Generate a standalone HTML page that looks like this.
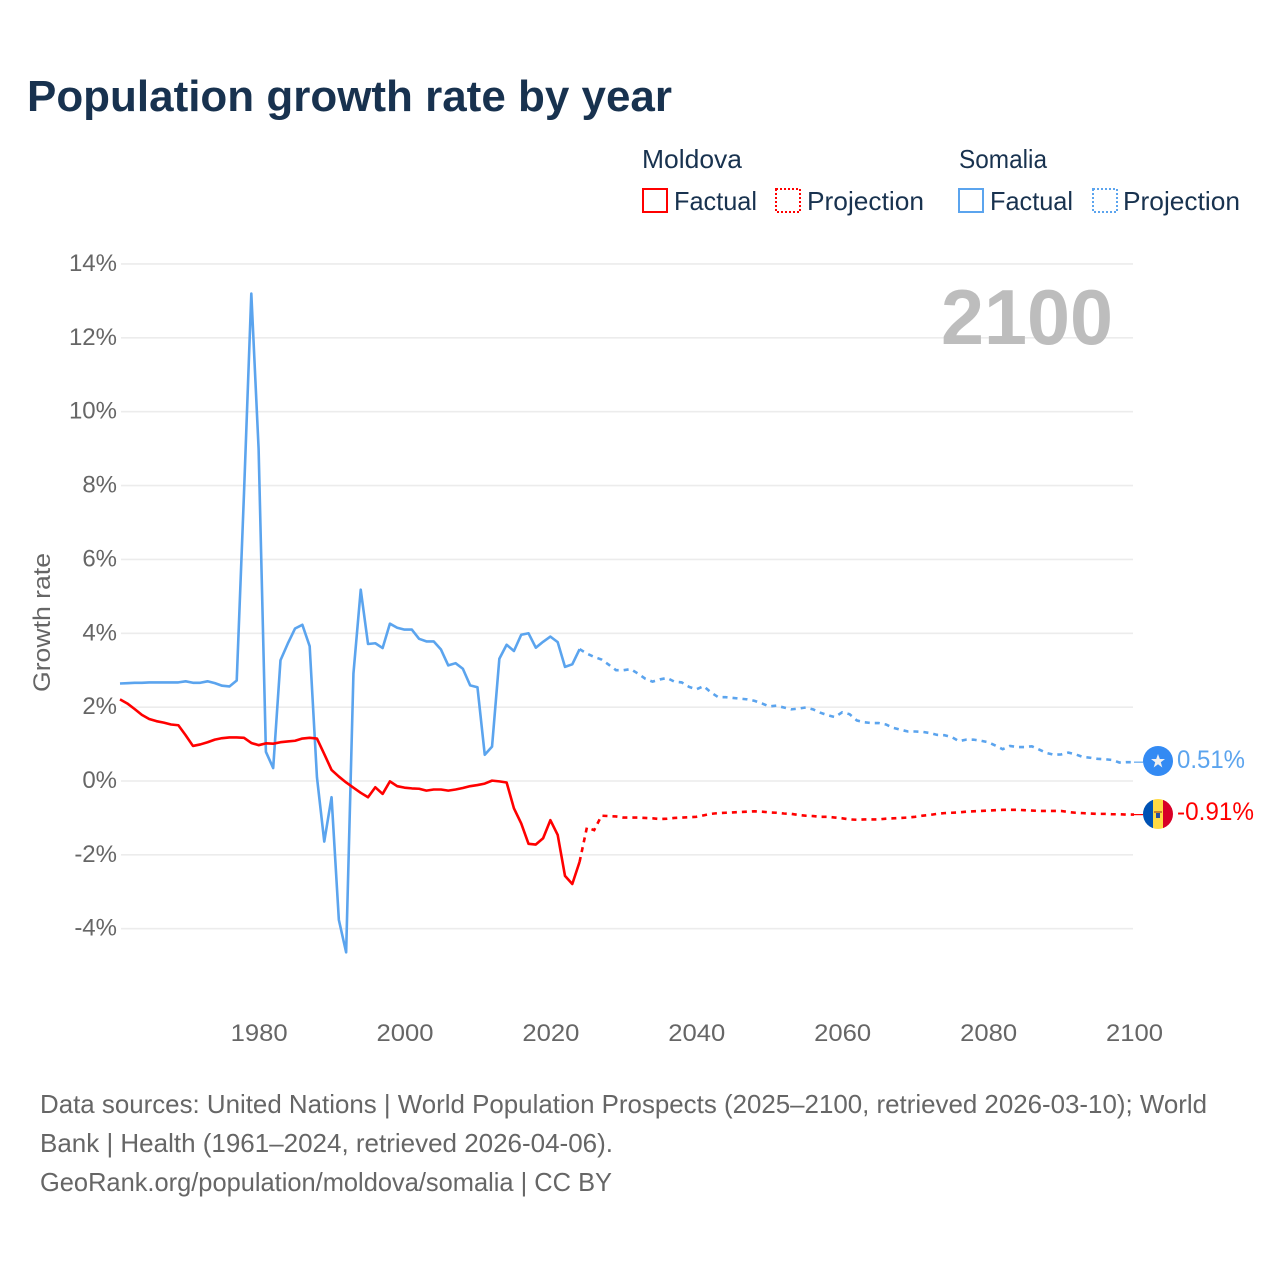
<!DOCTYPE html>
<html lang="en">
<head>
<meta charset="utf-8">
<title>Population growth rate by year</title>
<style>
html,body{margin:0;padding:0;background:#fff;}
svg{display:block;font-family:"Liberation Sans",sans-serif;}
</style>
</head>
<body>
<svg id="chart" xmlns="http://www.w3.org/2000/svg" width="1280" height="1280" viewBox="0 0 1280 1280">
  <defs>
    <clipPath id="flag-clip"><circle cx="1158" cy="814" r="15"></circle></clipPath>
  </defs>
  <rect x="0" y="0" width="1280" height="1280" fill="#ffffff"></rect>
  <text x="27" y="111" font-size="44" font-weight="700" fill="#18324f" textLength="645" lengthAdjust="spacingAndGlyphs">Population growth rate by year</text>

  <g font-size="26" fill="#18324f">
    <text x="642" y="168" textLength="100" lengthAdjust="spacingAndGlyphs">Moldova</text>
    <rect x="643" y="189" width="24" height="23" fill="none" stroke="#ff0000" stroke-width="2"></rect>
    <text x="674" y="210" textLength="83" lengthAdjust="spacingAndGlyphs">Factual</text>
    <rect x="776" y="189" width="24" height="23" fill="none" stroke="#ff0000" stroke-width="2" stroke-dasharray="2 2"></rect>
    <text x="807" y="210" textLength="117" lengthAdjust="spacingAndGlyphs">Projection</text>
    <text x="959" y="168" textLength="88" lengthAdjust="spacingAndGlyphs">Somalia</text>
    <rect x="959" y="189" width="24" height="23" fill="none" stroke="#5ba4ee" stroke-width="2"></rect>
    <text x="990" y="210" textLength="83" lengthAdjust="spacingAndGlyphs">Factual</text>
    <rect x="1093" y="189" width="24" height="23" fill="none" stroke="#5ba4ee" stroke-width="2" stroke-dasharray="2 2"></rect>
    <text x="1123" y="210" textLength="117" lengthAdjust="spacingAndGlyphs">Projection</text>
  </g>

  <g id="grid"></g>
  <g id="y-axis"></g>
  <g id="x-axis"></g>
  <text transform="translate(50,622.5) rotate(-90)" text-anchor="middle" font-size="24" fill="#666666" textLength="139" lengthAdjust="spacingAndGlyphs">Growth rate</text>
  <text id="year-label" x="1113" y="344" text-anchor="end" font-size="78" font-weight="700" fill="#bdbdbd" textLength="172" lengthAdjust="spacingAndGlyphs">2100</text>
  <g id="series"></g>

  <g>
    <circle cx="1158" cy="761" r="15" fill="#338af3"></circle>
    <polygon fill="#f0f0f0" points="1158,754 1159.8,759 1165,759 1160.8,762.3 1162.3,767.5 1158,764.3 1153.7,767.5 1155.2,762.3 1151,759 1156.2,759"></polygon>
  </g>
  <g clip-path="url(#flag-clip)">
    <rect x="1143" y="799" width="10" height="30" fill="#0052b4"></rect>
    <rect x="1153" y="799" width="10" height="30" fill="#ffda44"></rect>
    <rect x="1163" y="799" width="10" height="30" fill="#d80027"></rect>
    <rect x="1154" y="811" width="8" height="2" fill="#c9822c"></rect>
    <rect x="1156" y="813" width="4" height="5" fill="#2a4f9e"></rect>
  </g>
  <g id="end-labels"></g>

  <g font-size="26" fill="#666666">
    <text x="40" y="1113" textLength="1167" lengthAdjust="spacingAndGlyphs">Data sources: United Nations | World Population Prospects (2025–2100, retrieved 2026-03-10); World</text>
    <text x="40" y="1152" textLength="573" lengthAdjust="spacingAndGlyphs">Bank | Health (1961–2024, retrieved 2026-04-06).</text>
    <text x="40" y="1191" textLength="572" lengthAdjust="spacingAndGlyphs">GeoRank.org/population/moldova/somalia | CC BY</text>
  </g>
</svg>
<script>
const yTicks = [14, 12, 10, 8, 6, 4, 2, 0, -2, -4];
const xTicks = [1980, 2000, 2020, 2040, 2060, 2080, 2100];
const factualStartYear = 1961;
const projectionStartYear = 2024;
const moldovaFactual = [
  2.21,2.10,1.95,1.79,1.68,1.62,1.58,1.53,1.51,1.24,
  0.95,0.99,1.05,1.12,1.16,1.18,1.18,1.17,1.03,0.97,
  1.02,1.01,1.05,1.07,1.09,1.15,1.17,1.15,0.73,0.30,
  0.12,-0.04,-0.18,-0.32,-0.44,-0.17,-0.35,-0.01,-0.14,-0.18,
  -0.20,-0.21,-0.26,-0.23,-0.23,-0.26,-0.23,-0.19,-0.14,-0.11,
  -0.07,0.01,-0.01,-0.04,-0.74,-1.15,-1.70,-1.72,-1.55,-1.06,
  -1.46,-2.57,-2.79,-2.19
];
const somaliaFactual = [
  2.64,2.65,2.66,2.66,2.67,2.67,2.67,2.67,2.67,2.70,
  2.66,2.66,2.70,2.65,2.58,2.56,2.72,7.80,13.20,9.00,
  0.79,0.35,3.27,3.72,4.13,4.23,3.65,0.10,-1.64,-0.44,
  -3.76,-4.64,2.91,5.18,3.71,3.73,3.60,4.26,4.15,4.10,
  4.10,3.85,3.78,3.78,3.56,3.13,3.19,3.04,2.59,2.54,
  0.71,0.93,3.31,3.69,3.52,3.96,4.00,3.61,3.77,3.91,
  3.76,3.09,3.16,3.57
];
const moldovaProjection = [
  -2.19,-1.26,-1.33,-0.94,-0.95,-0.96,-0.99,-0.99,-0.99,-1.00,
  -1.01,-1.03,-1.02,-1.00,-0.99,-0.98,-0.97,-0.93,-0.89,-0.87,
  -0.86,-0.85,-0.84,-0.83,-0.82,-0.83,-0.85,-0.86,-0.88,-0.89,
  -0.92,-0.94,-0.95,-0.97,-0.97,-0.99,-1.01,-1.04,-1.05,-1.04,
  -1.04,-1.04,-1.02,-1.01,-1.00,-0.99,-0.97,-0.94,-0.92,-0.89,
  -0.87,-0.86,-0.85,-0.83,-0.82,-0.81,-0.80,-0.79,-0.78,-0.78,
  -0.78,-0.79,-0.80,-0.81,-0.81,-0.81,-0.81,-0.84,-0.86,-0.87,
  -0.88,-0.89,-0.89,-0.90,-0.90,-0.91,-0.91
];
const somaliaProjection = [
  3.57,3.45,3.36,3.29,3.15,3.00,3.00,3.03,2.91,2.77,
  2.69,2.75,2.79,2.69,2.67,2.55,2.48,2.57,2.40,2.27,
  2.27,2.25,2.23,2.21,2.17,2.10,2.02,2.04,1.99,1.94,
  1.96,1.99,1.94,1.85,1.78,1.73,1.86,1.81,1.64,1.59,
  1.57,1.57,1.53,1.44,1.39,1.34,1.34,1.33,1.30,1.25,
  1.24,1.19,1.08,1.12,1.12,1.09,1.05,0.96,0.86,0.95,
  0.92,0.92,0.94,0.85,0.76,0.71,0.72,0.77,0.72,0.65,
  0.63,0.60,0.59,0.57,0.50,0.51,0.51
];
const moldovaColor = '#ff0000';
const somaliaColor = '#5ba4ee';

const NS = 'http://www.w3.org/2000/svg';
function xScale(year) { return 120 + (year - 1961) * (1134 - 120) / (2100 - 1961); }
function yScale(value) { return 781 - value * 36.93; }
function svgEl(tag, attrs) {
  const el = document.createElementNS(NS, tag);
  Object.keys(attrs).forEach(function (k) { el.setAttribute(k, attrs[k]); });
  return el;
}
function pathFrom(values, startYear) {
  return values.map(function (v, i) {
    return (i ? 'L' : 'M') + xScale(startYear + i).toFixed(2) + ' ' + yScale(v).toFixed(2);
  }).join(' ');
}
function pct(v) { return v.toFixed(2) + '%'; }

const gridG = document.getElementById('grid');
const yAxisG = document.getElementById('y-axis');
const xAxisG = document.getElementById('x-axis');
const seriesG = document.getElementById('series');
const endG = document.getElementById('end-labels');

yTicks.forEach(function (t) {
  const line = svgEl('line', { x1: 121, x2: 1133, y1: yScale(t), y2: yScale(t), stroke: '#ececec', 'stroke-width': 1.6 });
  
  
  gridG.appendChild(line);
  const label = svgEl('text', { x: 117, y: yScale(t) + 7, 'text-anchor': 'end', 'font-size': 24, fill: '#666666' });
  
  
  label.textContent = t + '%';
  yAxisG.appendChild(label);
});

xTicks.forEach(function (t) {
  const label = svgEl('text', { x: xScale(t) + 0.5, y: 1041, 'text-anchor': 'middle', 'font-size': 24, fill: '#666666', textLength: 57, lengthAdjust: 'spacingAndGlyphs' });
  
  
  label.textContent = t;
  xAxisG.appendChild(label);
});

const moldovaFactualLine = svgEl('path', { d: pathFrom(moldovaFactual, factualStartYear), fill: 'none', stroke: moldovaColor, 'stroke-width': 2.6, 'stroke-linejoin': 'round' });


const somaliaFactualLine = svgEl('path', { d: pathFrom(somaliaFactual, factualStartYear), fill: 'none', stroke: somaliaColor, 'stroke-width': 2.6, 'stroke-linejoin': 'round' });


const moldovaProjectionLine = svgEl('path', { d: pathFrom(moldovaProjection, projectionStartYear), fill: 'none', stroke: moldovaColor, 'stroke-width': 2.6, 'stroke-dasharray': '5 5' });


const somaliaProjectionLine = svgEl('path', { d: pathFrom(somaliaProjection, projectionStartYear), fill: 'none', stroke: somaliaColor, 'stroke-width': 2.6, 'stroke-dasharray': '5 5' });


seriesG.appendChild(somaliaFactualLine);
seriesG.appendChild(moldovaFactualLine);
seriesG.appendChild(moldovaProjectionLine);
seriesG.appendChild(somaliaProjectionLine);

const somaliaEnd = somaliaProjection[somaliaProjection.length - 1];
const moldovaEnd = moldovaProjection[moldovaProjection.length - 1];

const somaliaConnector = svgEl('line', { x1: xScale(2100), x2: 1143, y1: yScale(somaliaEnd), y2: yScale(somaliaEnd), stroke: somaliaColor, 'stroke-width': 1.2 });


endG.appendChild(somaliaConnector);
const moldovaConnector = svgEl('line', { x1: xScale(2100), x2: 1143, y1: yScale(moldovaEnd), y2: yScale(moldovaEnd), stroke: moldovaColor, 'stroke-width': 1.2 });


endG.appendChild(moldovaConnector);

const somaliaLabel = svgEl('text', { x: 1177, y: 768, 'font-size': 25, fill: somaliaColor, textLength: 68, lengthAdjust: 'spacingAndGlyphs' });


somaliaLabel.textContent = pct(somaliaEnd);
endG.appendChild(somaliaLabel);
const moldovaLabel = svgEl('text', { x: 1177, y: 820, 'font-size': 25, fill: moldovaColor, textLength: 77, lengthAdjust: 'spacingAndGlyphs' });


moldovaLabel.textContent = pct(moldovaEnd);
endG.appendChild(moldovaLabel);
</script>
</body>
</html>
